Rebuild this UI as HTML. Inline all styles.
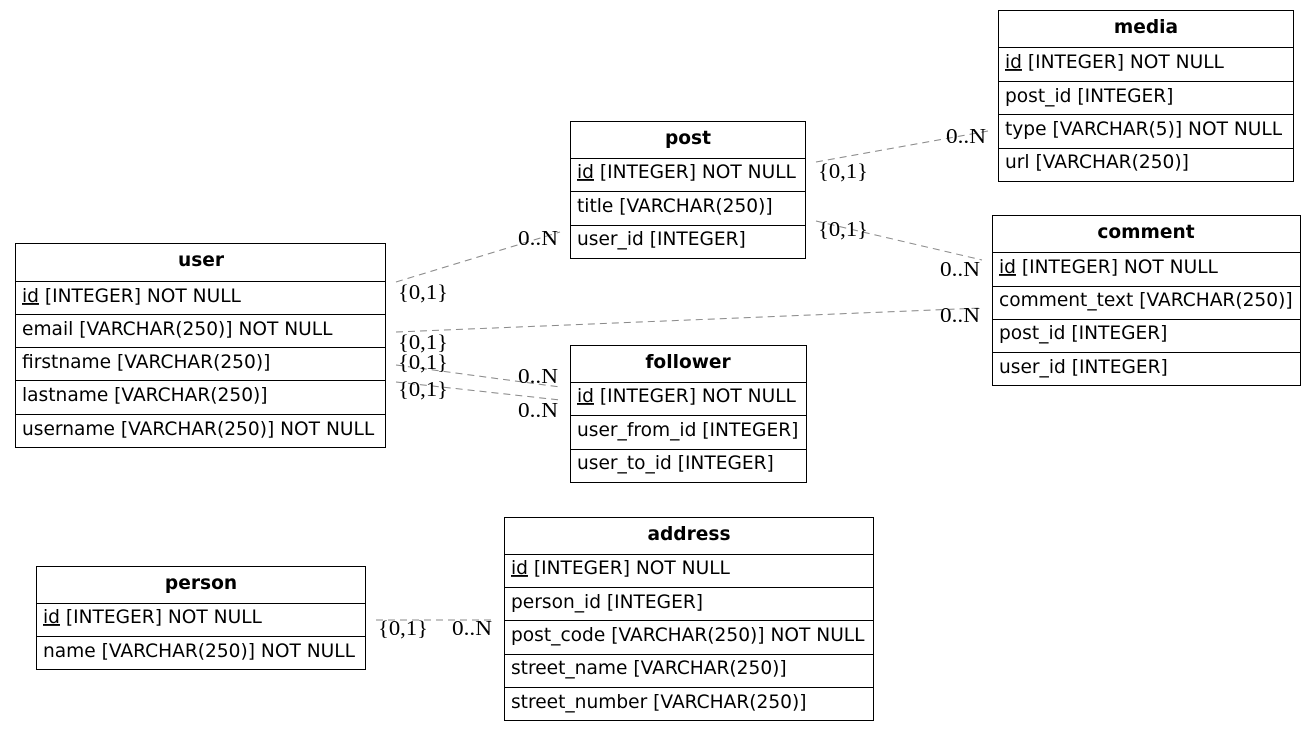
<!DOCTYPE html>
<html><head><meta charset="utf-8"><style>
html,body{margin:0;padding:0;background:#fff;}
svg{display:block;}
.t{font-family:"DejaVu Sans",sans-serif;font-size:18.6px;fill:#000;}
.h{font-family:"DejaVu Sans",sans-serif;font-size:18.6px;font-weight:bold;fill:#000;}
.l{font-family:"Liberation Serif",serif;font-size:21px;fill:#000;}
.d{stroke:#888;stroke-dasharray:7,5;fill:none;stroke-width:1;}
rect,.r{stroke:#000;fill:none;stroke-width:1;}
</style></head><body>
<svg width="1316" height="731" xmlns="http://www.w3.org/2000/svg">
<line class="d" x1="396" y1="282" x2="560" y2="232"/>
<line class="d" x1="816" y1="162" x2="988" y2="131"/>
<line class="d" x1="816" y1="221" x2="982" y2="260"/>
<line class="d" x1="396" y1="332" x2="982" y2="308"/>
<line class="d" x1="396" y1="365" x2="560" y2="387"/>
<line class="d" x1="396" y1="382" x2="560" y2="400"/>
<line class="d" x1="376" y1="620" x2="494" y2="620"/>
<text class="l" x="398" y="299" textLength="50" lengthAdjust="spacingAndGlyphs">{0,1}</text>
<text class="l" x="518" y="245" textLength="40" lengthAdjust="spacingAndGlyphs">0..N</text>
<text class="l" x="818" y="178" textLength="50" lengthAdjust="spacingAndGlyphs">{0,1}</text>
<text class="l" x="946" y="143" textLength="40" lengthAdjust="spacingAndGlyphs">0..N</text>
<text class="l" x="818" y="236" textLength="50" lengthAdjust="spacingAndGlyphs">{0,1}</text>
<text class="l" x="940" y="276" textLength="40" lengthAdjust="spacingAndGlyphs">0..N</text>
<text class="l" x="398" y="349" textLength="50" lengthAdjust="spacingAndGlyphs">{0,1}</text>
<text class="l" x="940" y="322" textLength="40" lengthAdjust="spacingAndGlyphs">0..N</text>
<text class="l" x="398" y="369" textLength="50" lengthAdjust="spacingAndGlyphs">{0,1}</text>
<text class="l" x="518" y="383" textLength="40" lengthAdjust="spacingAndGlyphs">0..N</text>
<text class="l" x="398" y="396" textLength="50" lengthAdjust="spacingAndGlyphs">{0,1}</text>
<text class="l" x="518" y="417" textLength="40" lengthAdjust="spacingAndGlyphs">0..N</text>
<text class="l" x="378" y="635" textLength="50" lengthAdjust="spacingAndGlyphs">{0,1}</text>
<text class="l" x="452" y="635" textLength="40" lengthAdjust="spacingAndGlyphs">0..N</text>

<rect x="998.5" y="10.5" width="295" height="171"/>
<text class="h" x="1146" y="33" text-anchor="middle">media</text>
<path class="r" d="M998 47.5H1294M998 81.5H1294M998 114.5H1294M998 148.5H1294"/>
<text class="t" x="1005" y="68"><tspan text-decoration="underline">id</tspan> [INTEGER] NOT NULL</text>
<text class="t" x="1005" y="102">post_id [INTEGER]</text>
<text class="t" x="1005" y="135">type [VARCHAR(5)] NOT NULL</text>
<text class="t" x="1005" y="168">url [VARCHAR(250)]</text>

<rect x="570.5" y="121.5" width="235" height="137"/>
<text class="h" x="688" y="144" text-anchor="middle">post</text>
<path class="r" d="M570 158.5H806M570 191.5H806M570 225.5H806"/>
<text class="t" x="577" y="178"><tspan text-decoration="underline">id</tspan> [INTEGER] NOT NULL</text>
<text class="t" x="577" y="212">title [VARCHAR(250)]</text>
<text class="t" x="577" y="245">user_id [INTEGER]</text>

<rect x="992.5" y="215.5" width="308" height="170"/>
<text class="h" x="1146" y="238" text-anchor="middle">comment</text>
<path class="r" d="M992 252.5H1301M992 286.5H1301M992 319.5H1301M992 352.5H1301"/>
<text class="t" x="999" y="273"><tspan text-decoration="underline">id</tspan> [INTEGER] NOT NULL</text>
<text class="t" x="999" y="306">comment_text [VARCHAR(250)]</text>
<text class="t" x="999" y="339">post_id [INTEGER]</text>
<text class="t" x="999" y="373">user_id [INTEGER]</text>

<rect x="15.5" y="243.5" width="370" height="204"/>
<text class="h" x="201" y="266" text-anchor="middle">user</text>
<path class="r" d="M15 281.5H386M15 314.5H386M15 347.5H386M15 380.5H386M15 414.5H386"/>
<text class="t" x="22" y="302"><tspan text-decoration="underline">id</tspan> [INTEGER] NOT NULL</text>
<text class="t" x="22" y="335">email [VARCHAR(250)] NOT NULL</text>
<text class="t" x="22" y="368">firstname [VARCHAR(250)]</text>
<text class="t" x="22" y="401">lastname [VARCHAR(250)]</text>
<text class="t" x="22" y="435">username [VARCHAR(250)] NOT NULL</text>

<rect x="570.5" y="345.5" width="236" height="137"/>
<text class="h" x="688" y="368" text-anchor="middle">follower</text>
<path class="r" d="M570 382.5H807M570 415.5H807M570 449.5H807"/>
<text class="t" x="577" y="402"><tspan text-decoration="underline">id</tspan> [INTEGER] NOT NULL</text>
<text class="t" x="577" y="436">user_from_id [INTEGER]</text>
<text class="t" x="577" y="469">user_to_id [INTEGER]</text>

<rect x="36.5" y="566.5" width="329" height="103"/>
<text class="h" x="201" y="589" text-anchor="middle">person</text>
<path class="r" d="M36 603.5H366M36 636.5H366"/>
<text class="t" x="43" y="623"><tspan text-decoration="underline">id</tspan> [INTEGER] NOT NULL</text>
<text class="t" x="43" y="657">name [VARCHAR(250)] NOT NULL</text>

<rect x="504.5" y="517.5" width="369" height="203"/>
<text class="h" x="689" y="540" text-anchor="middle">address</text>
<path class="r" d="M504 554.5H874M504 587.5H874M504 620.5H874M504 654.5H874M504 687.5H874"/>
<text class="t" x="511" y="574"><tspan text-decoration="underline">id</tspan> [INTEGER] NOT NULL</text>
<text class="t" x="511" y="608">person_id [INTEGER]</text>
<text class="t" x="511" y="641">post_code [VARCHAR(250)] NOT NULL</text>
<text class="t" x="511" y="674">street_name [VARCHAR(250)]</text>
<text class="t" x="511" y="708">street_number [VARCHAR(250)]</text>
</svg>
</body></html>
